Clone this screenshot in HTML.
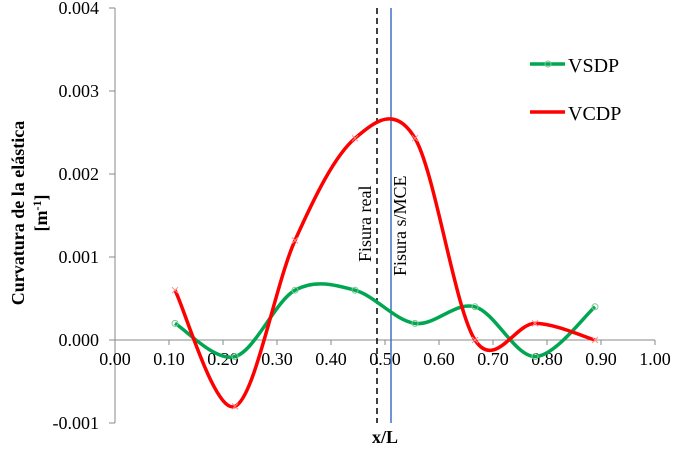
<!DOCTYPE html>
<html><head><style>
body{margin:0;background:#fff}
svg{font-family:"Liberation Serif",serif}
</style></head><body>
<svg id="s" width="674" height="445" viewBox="0 0 674 445">
<g stroke="#888" stroke-width="1">
<line x1="115" y1="8" x2="115" y2="423"/>
<line x1="115" y1="340" x2="655" y2="340"/>
</g>
<g id="ticks" stroke="#888"></g>
<g id="labels" font-size="18" fill="#000"></g>
<line x1="377" y1="8" x2="377" y2="423" stroke="#000" stroke-width="1.5" stroke-dasharray="6,4"/>
<line x1="391" y1="8" x2="391" y2="423" stroke="#4472C4" stroke-width="1.5"/>
<text transform="translate(371,262) rotate(-90)" font-size="18">Fisura real</text>
<text transform="translate(406,276) rotate(-90)" font-size="18">Fisura s/MCE</text>
<g id="series"></g>
<line x1="530" y1="64" x2="565" y2="64" stroke="#00A651" stroke-width="3.5"/>
<circle cx="548" cy="64" r="3" fill="none" stroke="#7ac98f" stroke-width="1"/>
<text x="568" y="72" font-size="20">VSDP</text>
<line x1="530" y1="112" x2="565" y2="112" stroke="#f00" stroke-width="3.5"/>
<text x="568" y="120" font-size="20">VCDP</text>
<text transform="translate(24,213) rotate(-90)" font-size="18" font-weight="bold" text-anchor="middle">Curvatura de la elástica</text>
<text transform="translate(47,213) rotate(-90)" font-size="18" font-weight="bold" text-anchor="middle">[m<tspan font-size="12" dy="-6">-1</tspan><tspan dy="6">]</tspan></text>
<text x="385" y="443" font-size="18" font-weight="bold" text-anchor="middle">x/L</text>
</svg>
<script>
var NS="http://www.w3.org/2000/svg";
function el(p,t,a,txt){var e=document.createElementNS(NS,t);for(var k in a)e.setAttribute(k,a[k]);if(txt)e.textContent=txt;document.getElementById(p).appendChild(e);return e;}
for(var i=0;i<=10;i++){var x=115+54*i;el("ticks","line",{x1:x,y1:340,x2:x,y2:345});
el("labels","text",{x:x,y:365,"text-anchor":"middle"},(i/10).toFixed(2));}
for(var j=-1;j<=4;j++){var y=340-83*j;el("ticks","line",{x1:109,y1:y,x2:115,y2:y});
el("labels","text",{x:99,y:y+6,"text-anchor":"end"},(j/1000).toFixed(3));}
function path(p){var d="M"+p[0][0]+","+p[0][1];for(var i=0;i<p.length-1;i++){var a=p[i-1]||p[i],b=p[i],c=p[i+1],e=p[i+2]||c;
var t=1/6;d+=" C"+(b[0]+(c[0]-a[0])*t)+","+(b[1]+(c[1]-a[1])*t)+" "+(c[0]-(e[0]-b[0])*t)+","+(c[1]-(e[1]-b[1])*t)+" "+c[0]+","+c[1];}return d;}
var X=[175,235,295,355,415,475,535,595];
var g=[0.0002,-0.0002,0.0006,0.0006,0.0002,0.0004,-0.0002,0.0004].map(function(v,i){return [X[i],340-83000*v]});
var r=[0.0006,-0.0008,0.0012,0.00243,0.00243,0,0.0002,0].map(function(v,i){return [X[i],340-83000*v]});
el("series","path",{d:path(g),fill:"none",stroke:"#00A651","stroke-width":3.5});
el("series","path",{d:path(r),fill:"none",stroke:"#f00","stroke-width":3.5});
g.forEach(function(p){el("series","circle",{cx:p[0],cy:p[1],r:3,fill:"none",stroke:"#7ac98f","stroke-width":1});});
r.forEach(function(p){el("series","path",{d:"M"+(p[0]-3)+","+(p[1]-3)+"l6,6m0,-6l-6,6",stroke:"#f88","stroke-width":1});});
</script>
</body></html>
